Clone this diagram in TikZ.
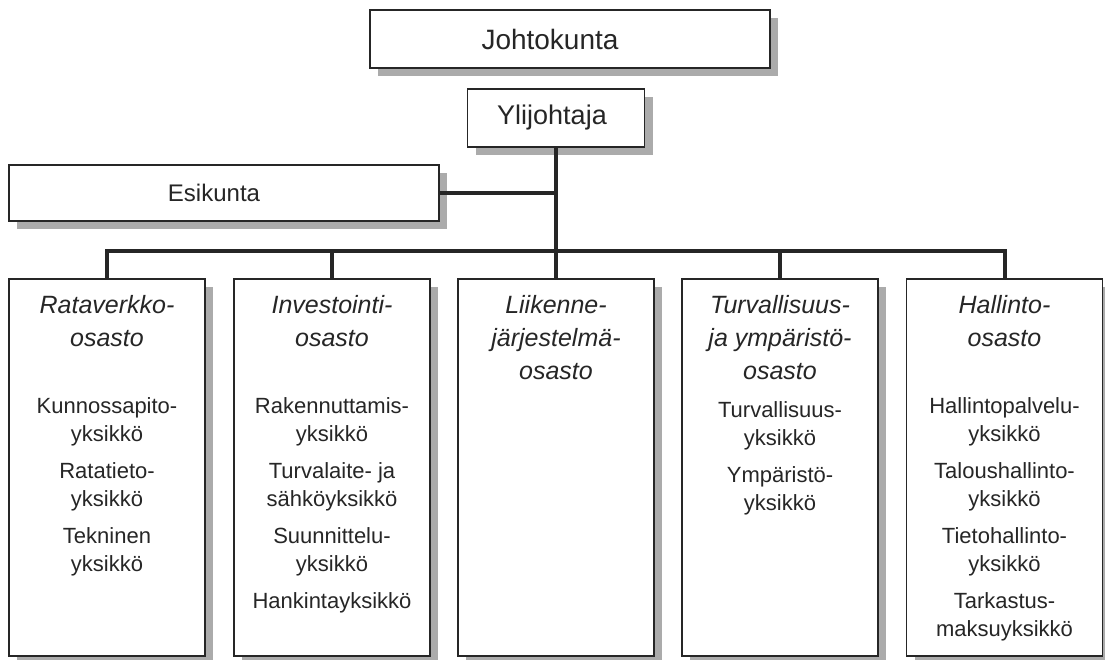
\documentclass[tikz,border=0pt]{standalone}
\usepackage{fontspec}
\setmainfont{Liberation Sans}
\usetikzlibrary{shadows}
\definecolor{ink}{HTML}{262626}
\definecolor{shade}{HTML}{ABABAB}

\begin{document}
\begin{tikzpicture}[x=1pt, y=-1pt,
        laatikko/.style={draw=ink, line width=1.3pt, fill=white, inner sep=0pt, text=ink,
            drop shadow={shadow xshift=8pt, shadow yshift=-8pt, fill=shade, opacity=1}},
        osasto/.style={laatikko, minimum width=196pt, minimum height=377pt},
        otsikko/.style={anchor=north, align=center, inner sep=0pt, text=ink,
            font=\fontsize{25}{33}\selectfont\itshape},
        yksikot/.style={anchor=north, align=center, inner sep=0pt, text=ink,
            font=\fontsize{22}{28.5}\selectfont},
        viiva/.style={draw=ink, line width=4pt}]

    \useasboundingbox (0, 0) rectangle (1105, 659);

    \node[laatikko, minimum width=400pt, minimum height=58pt, font=\fontsize{28}{32}\selectfont] (johto) at (570, 39) {\hspace*{-40pt}Johtokunta};
    \node[laatikko, minimum width=177pt, minimum height=58pt, font=\fontsize{27}{30}\selectfont] (yli) at (556, 118) {\hspace*{-8pt}Ylijohtaja};
    \node[laatikko, minimum width=430pt, minimum height=56pt, font=\fontsize{24}{28}\selectfont] (esi) at (224, 193) {\hspace*{-20pt}Esikunta};

    \node[osasto] (rata) at (107, 467.5) {};
    \node[osasto] (inv) at (332, 467.5) {};
    \node[osasto] (liik) at (556, 467.5) {};
    \node[osasto] (turv) at (780, 467.5) {};
    \node[osasto] (hall) at (1004.5, 467.5) {};

    \coordinate (bus) at (0, 251);

    \draw[viiva] (yli.south) -- (liik.north);
    \draw[viiva] (esi.east) -- (esi.east -| yli.south);
    \draw[viiva] (rata.north) |- (bus -| hall.north) -- (hall.north);
    \draw[viiva] (inv.north) -- (inv.north |- bus);
    \draw[viiva] (turv.north) -- (turv.north |- bus);

    \node[otsikko] (rataT) at (107, 295) {Rataverkko-\\osasto};
    \node[otsikko] (invT) at (332, 295) {Investointi-\\osasto};
    \node[otsikko] (liikT) at (556, 295) {Liikenne-\\järjestelmä-\\osasto};
    \node[otsikko] (turvT) at (780, 295) {Turvallisuus-\\ja ympäristö-\\osasto};
    \node[otsikko] (hallT) at (1004.5, 295) {Hallinto-\\osasto};

    \node[yksikot] (rataU) at (107, 397) {Kunnossapito-\\yksikkö\\[8pt] Ratatieto-\\yksikkö\\[8pt] Tekninen\\yksikkö};
    \node[yksikot] (invU) at (332, 397) {Rakennuttamis-\\yksikkö\\[8pt] Turvalaite- ja\\sähköyksikkö\\[8pt] Suunnittelu-\\yksikkö\\[8pt] Hankintayksikkö};
    \node[yksikot] (turvU) at (780, 401) {Turvallisuus-\\yksikkö\\[8pt] Ympäristö-\\yksikkö};
    \node[yksikot] (hallU) at (1004.5, 397) {Hallintopalvelu-\\yksikkö\\[8pt] Taloushallinto-\\yksikkö\\[8pt] Tietohallinto-\\yksikkö\\[8pt] Tarkastus-\\maksuyksikkö};
\end{tikzpicture}
\end{document}
